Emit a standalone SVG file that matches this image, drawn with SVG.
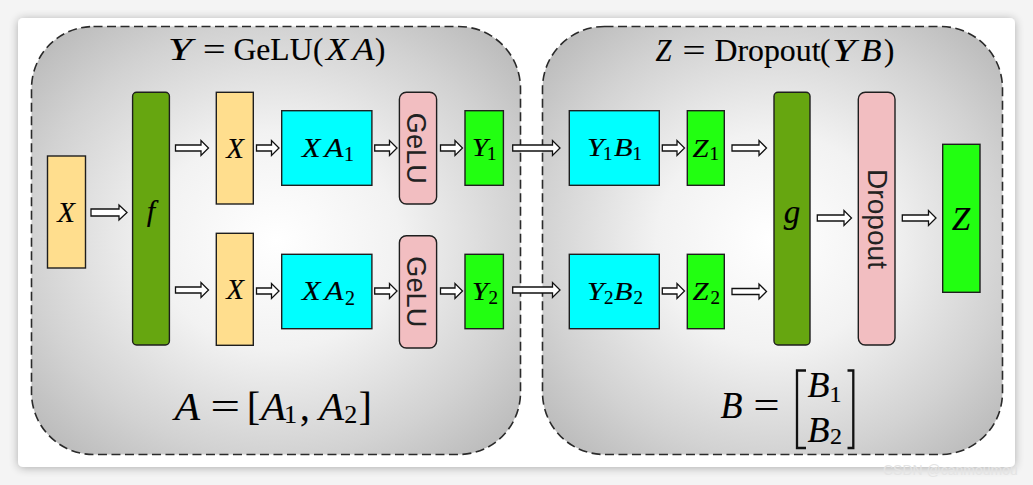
<svg xmlns="http://www.w3.org/2000/svg" width="1033" height="485" viewBox="0 0 1033 485">
<defs>
  <radialGradient id="pg" cx="0.5" cy="0.5" r="0.72">
    <stop offset="0" stop-color="#ffffff"/>
    <stop offset="0.35" stop-color="#f2f2f2"/>
    <stop offset="0.7" stop-color="#d2d2d2"/>
    <stop offset="1" stop-color="#b2b2b2"/>
  </radialGradient>
  <filter id="sh" x="-5%" y="-10%" width="110%" height="120%">
    <feGaussianBlur in="SourceAlpha" stdDeviation="5"/>
    <feOffset dx="0" dy="1" result="b"/>
    <feComponentTransfer><feFuncA type="linear" slope="0.3"/></feComponentTransfer>
    <feMerge><feMergeNode/><feMergeNode in="SourceGraphic"/></feMerge>
  </filter>
  <style>
    .panel{fill:url(#pg);stroke:#2a2a2a;stroke-width:1.6;stroke-dasharray:9 4.5}
    .bx{stroke:#1e1e1e;stroke-width:1.4}
    .or{fill:#ffde8e}
    .dg{fill:#66a610}
    .cy{fill:#00ffff}
    .gr{fill:#22ff11}
    .pk{fill:#f2bec1}
    .m{font-family:"Liberation Serif",serif;fill:#000;stroke:#000;stroke-width:0.15}
    .i{font-style:italic}
    .s{font-family:"Liberation Sans",sans-serif;fill:#222;font-size:28px}
    .ar{fill:#fff;stroke:#111;stroke-width:1.3;stroke-linejoin:miter}
  </style>
</defs>
<rect width="1033" height="485" fill="#f4f4f4"/>
<rect x="18" y="18" width="997" height="449" rx="5" fill="#fff" filter="url(#sh)"/>

<g id="panel-left">
  <rect class="panel" x="31.5" y="26.5" width="489" height="428" rx="62"/>
  <text class="m" font-size="31" y="60"><tspan class="i" x="168" textLength="24" lengthAdjust="spacingAndGlyphs">Y</tspan><tspan x="203" textLength="22.5" lengthAdjust="spacingAndGlyphs">=</tspan><tspan x="233.5" textLength="79" lengthAdjust="spacingAndGlyphs">GeLU</tspan><tspan x="313">(</tspan><tspan class="i" x="326" textLength="22" lengthAdjust="spacingAndGlyphs">X</tspan><tspan class="i" x="352.5" textLength="22" lengthAdjust="spacingAndGlyphs">A</tspan><tspan x="375">)</tspan></text>
  <text class="m" font-size="39" y="420"><tspan class="i" x="174.5" textLength="25.5" lengthAdjust="spacingAndGlyphs">A</tspan><tspan x="210.5" textLength="29.5" lengthAdjust="spacingAndGlyphs">=</tspan><tspan x="247">[</tspan><tspan class="i" x="261" textLength="25" lengthAdjust="spacingAndGlyphs">A</tspan><tspan x="284" font-size="26" dy="2.5">1</tspan><tspan x="300" dy="-2.5">,</tspan><tspan class="i" x="319" textLength="25" lengthAdjust="spacingAndGlyphs">A</tspan><tspan x="344.2" font-size="26" dy="2.5">2</tspan><tspan x="358.7" dy="-2.5">]</tspan></text>
</g>
<g id="panel-right">
  <rect class="panel" x="542.5" y="26.5" width="460" height="428" rx="62"/>
  <text class="m" font-size="31" y="60.5"><tspan class="i" x="655.5" textLength="16" lengthAdjust="spacingAndGlyphs">Z</tspan><tspan x="682.5" textLength="23" lengthAdjust="spacingAndGlyphs">=</tspan><tspan x="714.5" textLength="106" lengthAdjust="spacingAndGlyphs">Dropout</tspan><tspan x="820">(</tspan><tspan class="i" x="832" textLength="23.5" lengthAdjust="spacingAndGlyphs">Y</tspan><tspan class="i" x="861" textLength="20.5" lengthAdjust="spacingAndGlyphs">B</tspan><tspan x="884">)</tspan></text>
  <text class="m" font-size="37" y="418"><tspan class="i" x="720.5" textLength="22" lengthAdjust="spacingAndGlyphs">B</tspan><tspan x="753.5" textLength="26" lengthAdjust="spacingAndGlyphs">=</tspan></text>
  <path d="M806,370.5 H797 V448 H806 M847.5,370.5 H853.3 V448 H847.5" fill="none" stroke="#111" stroke-width="2.3"/>
  <text class="m" font-size="35" y="397"><tspan class="i" x="807.5" textLength="22" lengthAdjust="spacingAndGlyphs">B</tspan><tspan x="829.5" font-size="24" dy="4.5">1</tspan></text>
  <text class="m" font-size="35" y="442"><tspan class="i" x="807.5" textLength="22" lengthAdjust="spacingAndGlyphs">B</tspan><tspan x="830" font-size="24" dy="1.5">2</tspan></text>
</g>

<g id="x-in"><rect class="bx or" x="47.5" y="156" width="38" height="112"/><text class="m i" font-size="29" x="66" y="221.5" text-anchor="middle">X</text></g>
<g id="f"><rect class="bx dg" x="132.6" y="92.3" width="36.8" height="252.7" rx="4"/><text class="m i" font-size="30" x="151" y="220.5" text-anchor="middle">f</text></g>
<g id="x-top"><rect class="bx or" x="216.3" y="92.3" width="37" height="111.7"/><text class="m i" font-size="29" x="235" y="158" text-anchor="middle">X</text></g>
<g id="x-bot"><rect class="bx or" x="216.3" y="233.3" width="37" height="112"/><text class="m i" font-size="29" x="235" y="299" text-anchor="middle">X</text></g>
<g id="xa1"><rect class="bx cy" x="281.7" y="110.7" width="90.2" height="74.6"/><text class="m" font-size="28" y="156.5"><tspan class="i" x="302" textLength="18.5" lengthAdjust="spacingAndGlyphs">X</tspan><tspan class="i" x="324.5" textLength="19" lengthAdjust="spacingAndGlyphs">A</tspan><tspan x="344" font-size="20" dy="4.5">1</tspan></text></g>
<g id="xa2"><rect class="bx cy" x="281.7" y="254.3" width="90.2" height="74.4"/><text class="m" font-size="28" y="300"><tspan class="i" x="302" textLength="18.5" lengthAdjust="spacingAndGlyphs">X</tspan><tspan class="i" x="324.5" textLength="19" lengthAdjust="spacingAndGlyphs">A</tspan><tspan x="345" font-size="20" dy="4.5">2</tspan></text></g>
<g id="gelu1"><rect class="bx pk" x="399.4" y="92.3" width="37.2" height="111.7" rx="7"/><text class="s" transform="translate(406.5,148.3) rotate(90)" text-anchor="middle" textLength="71" lengthAdjust="spacingAndGlyphs">GeLU</text></g>
<g id="gelu2"><rect class="bx pk" x="399.4" y="235.7" width="37.2" height="112.3" rx="7"/><text class="s" transform="translate(406.5,291.8) rotate(90)" text-anchor="middle" textLength="71" lengthAdjust="spacingAndGlyphs">GeLU</text></g>
<g id="y1"><rect class="bx gr" x="465" y="110.7" width="38.4" height="74.6"/><text class="m" font-size="25" y="156"><tspan class="i" x="472" textLength="16" lengthAdjust="spacingAndGlyphs">Y</tspan><tspan x="487" font-size="19" dy="4">1</tspan></text></g>
<g id="y2"><rect class="bx gr" x="465" y="254.3" width="38.4" height="74.4"/><text class="m" font-size="25" y="299.5"><tspan class="i" x="472" textLength="16" lengthAdjust="spacingAndGlyphs">Y</tspan><tspan x="488.5" font-size="19" dy="4">2</tspan></text></g>

<g id="y1b1"><rect class="bx cy" x="569.3" y="110.7" width="90" height="74.6"/><text class="m" font-size="26" y="156"><tspan class="i" x="587" textLength="17" lengthAdjust="spacingAndGlyphs">Y</tspan><tspan x="603" font-size="19" dy="4">1</tspan><tspan class="i" x="614" dy="-4" textLength="18.5" lengthAdjust="spacingAndGlyphs">B</tspan><tspan x="632.5" font-size="19" dy="4">1</tspan></text></g>
<g id="y2b2"><rect class="bx cy" x="569.3" y="254.3" width="90" height="74.4"/><text class="m" font-size="26" y="299.5"><tspan class="i" x="587" textLength="17" lengthAdjust="spacingAndGlyphs">Y</tspan><tspan x="604" font-size="19" dy="4">2</tspan><tspan class="i" x="614" dy="-4" textLength="18.5" lengthAdjust="spacingAndGlyphs">B</tspan><tspan x="633.5" font-size="19" dy="4">2</tspan></text></g>
<g id="z1"><rect class="bx gr" x="687.3" y="110.7" width="37" height="74.6"/><text class="m" font-size="26" y="156.5"><tspan class="i" x="692.5" textLength="16" lengthAdjust="spacingAndGlyphs">Z</tspan><tspan x="709.5" font-size="19" dy="3.5">1</tspan></text></g>
<g id="z2"><rect class="bx gr" x="687.3" y="254.3" width="37" height="74.4"/><text class="m" font-size="26" y="300"><tspan class="i" x="692.5" textLength="16" lengthAdjust="spacingAndGlyphs">Z</tspan><tspan x="710.5" font-size="19" dy="3.5">2</tspan></text></g>
<g id="g"><rect class="bx dg" x="774" y="92.3" width="36" height="252.7" rx="4"/><text class="m i" font-size="33" x="792" y="223" text-anchor="middle">g</text></g>
<g id="dropout"><rect class="bx pk" x="858.3" y="92.3" width="36.7" height="252.7" rx="7"/><text class="s" transform="translate(867.5,219) rotate(90)" text-anchor="middle" textLength="100" lengthAdjust="spacingAndGlyphs">Dropout</text></g>
<g id="z"><rect class="bx gr" x="942.7" y="144.3" width="37.3" height="148"/><text class="m i" font-size="33" x="961" y="230" text-anchor="middle">Z</text></g>

<g id="connectors">
  <path class="ar" d="M91,209 H119 V205 L127,212.5 L119,220 V216 H91 Z"/>
  <path class="ar" d="M175.5,145 H201 V140.5 L208.5,148 L201,155.5 V151 H175.5 Z"/>
  <path class="ar" d="M175.5,287 H201 V282.5 L208.5,290 L201,297.5 V293 H175.5 Z"/>
  <path class="ar" d="M256.5,145 H271.5 V140.5 L279,148 L271.5,155.5 V151 H256.5 Z"/>
  <path class="ar" d="M256.5,288 H271.5 V283.5 L279,291 L271.5,298.5 V294 H256.5 Z"/>
  <path class="ar" d="M374.7,145 H389.5 V140.5 L397,148 L389.5,155.5 V151 H374.7 Z"/>
  <path class="ar" d="M374.7,288 H389.5 V283.5 L397,291 L389.5,298.5 V294 H374.7 Z"/>
  <path class="ar" d="M440.5,145 H455 V140.5 L462.5,148 L455,155.5 V151 H440.5 Z"/>
  <path class="ar" d="M440.5,288 H455 V283.5 L462.5,291 L455,298.5 V294 H440.5 Z"/>
  <path class="ar" d="M512.7,145 H552.5 V140.5 L560,148 L552.5,155.5 V151 H512.7 Z"/>
  <path class="ar" d="M512.7,287 H552.5 V282.5 L560,290 L552.5,297.5 V293 H512.7 Z"/>
  <path class="ar" d="M662.3,145 H677 V140.5 L684.5,148 L677,155.5 V151 H662.3 Z"/>
  <path class="ar" d="M662.3,288 H677 V283.5 L684.5,291 L677,298.5 V294 H662.3 Z"/>
  <path class="ar" d="M732,145 H759 V140.5 L766.5,148 L759,155.5 V151 H732 Z"/>
  <path class="ar" d="M732,288.5 H759 V284 L766.5,291.5 L759,299 V294.5 H732 Z"/>
  <path class="ar" d="M817.3,215 H844 V210.5 L851.5,218 L844,225.5 V221 H817.3 Z"/>
  <path class="ar" d="M902.3,215 H928.5 V210.5 L936,218 L928.5,225.5 V221 H902.3 Z"/>
</g>
<text x="883" y="475" font-family="Liberation Sans, sans-serif" font-size="14" fill="#e4e4e4">CSDN @canmoumou</text>
</svg>
